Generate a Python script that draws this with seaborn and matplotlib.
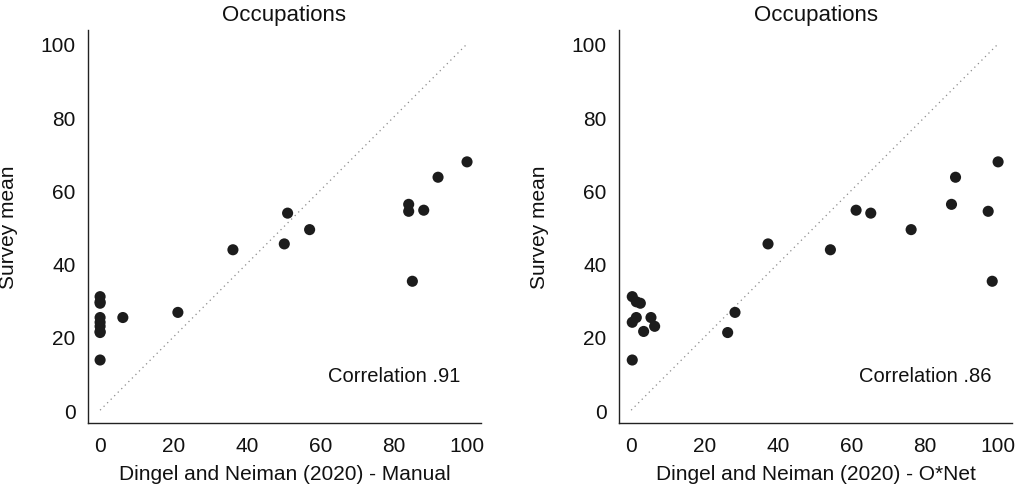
import matplotlib
matplotlib.use("Agg")
import matplotlib.pyplot as plt
import seaborn as sns
import pandas as pd

# Occupation-level shares of jobs that can be done from home
survey_mean = [31.0, 29.6, 29.2, 25.3, 25.3, 24.0, 22.9, 21.5, 21.2, 13.7,
               26.7, 43.8, 45.4, 53.8, 49.3, 56.2, 54.3, 54.6, 35.2, 63.6, 67.8]
dn_manual = [0.0, 0.0, 0.0, 0.0, 6.2, 0.0, 0.0, 0.0, 0.0, 0.0,
             21.2, 36.2, 50.2, 51.1, 57.1, 84.1, 84.1, 88.2, 85.1, 92.1, 100.0]
dn_onet = [0.3, 1.4, 2.5, 1.4, 5.4, 0.3, 6.4, 3.4, 26.3, 0.3,
           28.3, 54.3, 37.3, 65.3, 76.3, 87.3, 97.3, 61.3, 98.4, 88.4, 100.0]

panel_xlabels = ["Dingel and Neiman (2020) - Manual", "Dingel and Neiman (2020) - O*Net"]
correlations = [".91", ".86"]
axis_ticks = [0, 20, 40, 60, 80, 100]
diag = [0, 100]

sns.set_style("white")
plt.rcParams["font.family"] = ["Liberation Sans", "DejaVu Sans"]

fig = plt.figure(figsize=(10.16, 4.89), dpi=100)
ax_l = fig.add_axes([0.0866, 0.1329, 0.3868, 0.8037])
ax_r = fig.add_axes([0.6093, 0.1329, 0.3868, 0.8037])

df = pd.DataFrame({"survey": survey_mean, "manual": dn_manual, "onet": dn_onet})

for ax, xcol, xlabel, corr in zip([ax_l, ax_r], ["manual", "onet"], panel_xlabels, correlations):
    ax.plot(diag, diag, linestyle=(0, (1, 3)), color="#8c8c8c", linewidth=0.9, zorder=1)
    sns.scatterplot(data=df, x=xcol, y="survey", ax=ax, s=64, color="#1c1c1c",
                    edgecolor="none", linewidth=0, zorder=3)
    ax.set_xlim(-3.3, 103.8)
    ax.set_ylim(-3.5, 103.8)
    ax.set_xticks(axis_ticks)
    ax.set_yticks(axis_ticks)
    ax.tick_params(axis="both", length=0, labelsize=15, colors="#111111")
    ax.tick_params(axis="x", pad=9)
    ax.tick_params(axis="y", pad=9)
    for side in ["top", "right"]:
        ax.spines[side].set_visible(False)
    for side in ["left", "bottom"]:
        ax.spines[side].set_color("#222222")
        ax.spines[side].set_linewidth(1.0)
    ax.set_xlabel(xlabel, fontsize=15, color="#111111")
    ax.set_ylabel("Survey mean", fontsize=15, color="#111111")
    ax.xaxis.set_label_coords(0.5, -0.105)
    ax.yaxis.set_label_coords(-0.178, 0.5)
    ax.set_title("Occupations", fontsize=16, color="#111111", pad=7)
    ax.text(98.1, 9.4, "Correlation " + corr, ha="right", va="center",
            fontsize=14.5, color="#111111")

fig.savefig("out.png", dpi=100)
